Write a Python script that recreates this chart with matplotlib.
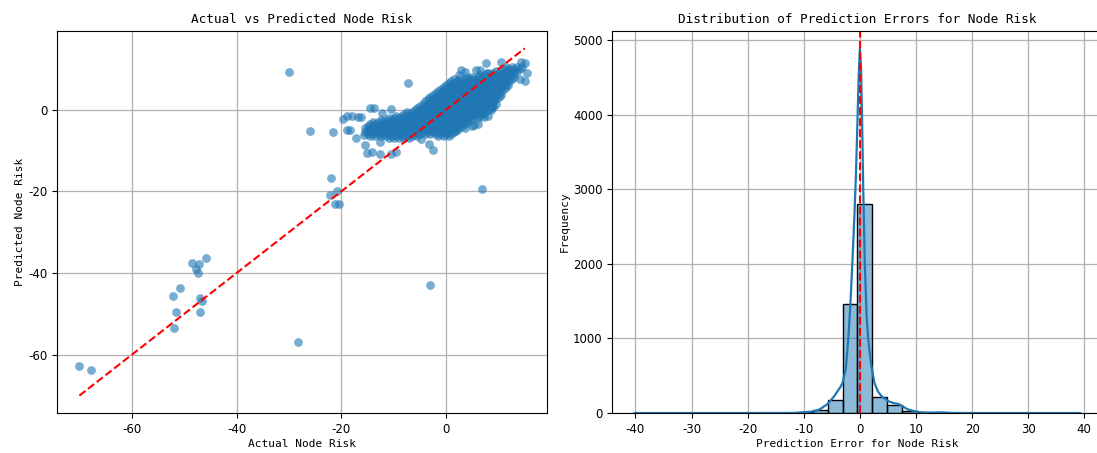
"""Actual vs predicted node risk (scatter) and error distribution (histogram + KDE)."""

import matplotlib
matplotlib.use("Agg")
import matplotlib.pyplot as plt
import numpy as np

plt.rcParams["axes.unicode_minus"] = False

# ---- left panel: dense core of the cloud, one list of actual values per predicted level
core_levels = [-7.0, -6.5, -6.0, -5.5, -5.0, -4.5, -4.0, -3.5, -3.0, -2.5, -2.0, -1.5,
               -1.0, -0.5, 0.0, 0.5, 1.0, 1.5, 2.0, 2.5, 3.0, 3.5, 4.0, 4.5, 5.0, 5.5,
               6.0, 6.5, 7.0, 7.5, 8.0, 8.5, 9.0, 9.5, 10.0, 10.5]
core_actual = [
    [-11, -10, -9, -8, -7],
    [-14.5, -13.5, -12.5, -11.5, -10.5, -9.5, -8.5, -7.5, -6.5, -5.5, -1.5, -0.5, 0.5],
    [-15, -14, -13, -12, -11, -10, -9, -8, -7, -6, -5, -4, -3, -2, -1, 0, 1],
    [-15.5, -14.5, -13.5, -12.5, -11.5, -10.5, -9.5, -8.5, -7.5, -6.5, -5.5, -4.5, -3.5,
     -2.5, -1.5, -0.5, 0.5, 1.5],
    [-15, -14, -13, -12, -11, -10, -9, -8, -7, -6, -5, -4, -3, -2, -1, 0, 1, 2],
    [-15.5, -14.5, -13.5, -12.5, -11.5, -10.5, -9.5, -8.5, -7.5, -6.5, -5.5, -4.5, -3.5,
     -2.5, -1.5, -0.5, 0.5, 1.5, 2.5],
    [-15, -14, -13, -12, -11, -10, -9, -8, -7, -6, -5, -4, -3, -2, -1, 0, 1, 2, 3],
    [-14.5, -13.5, -12.5, -11.5, -10.5, -9.5, -8.5, -7.5, -6.5, -5.5, -4.5, -3.5, -2.5,
     -1.5, -0.5, 0.5, 1.5, 2.5, 3.5],
    [-14, -13, -12, -11, -10, -9, -8, -7, -6, -5, -4, -3, -2, -1, 0, 1, 2, 3, 4],
    [-12.5, -11.5, -10.5, -9.5, -8.5, -7.5, -6.5, -5.5, -4.5, -3.5, -2.5, -1.5, -0.5, 0.5,
     1.5, 2.5, 3.5, 4.5],
    [-11, -10, -9, -8, -7, -6, -5, -4, -3, -2, -1, 0, 1, 2, 3, 4, 5, 6],
    [-9.5, -8.5, -7.5, -6.5, -5.5, -4.5, -3.5, -2.5, -1.5, -0.5, 0.5, 1.5, 2.5, 3.5, 4.5,
     5.5, 6.5],
    [-8, -7, -6, -5, -4, -3, -2, -1, 0, 1, 2, 3, 4, 5, 6, 7],
    [-7.5, -6.5, -5.5, -4.5, -3.5, -2.5, -1.5, -0.5, 0.5, 1.5, 2.5, 3.5, 4.5, 5.5, 6.5, 7.5],
    [-6, -5, -4, -3, -2, -1, 0, 1, 2, 3, 4, 5, 6, 7, 8],
    [-5.5, -4.5, -3.5, -2.5, -1.5, -0.5, 0.5, 1.5, 2.5, 3.5, 4.5, 5.5, 6.5, 7.5, 8.5],
    [-5, -4, -3, -2, -1, 0, 1, 2, 3, 4, 5, 6, 7, 8, 9],
    [-4.5, -3.5, -2.5, -1.5, -0.5, 0.5, 1.5, 2.5, 3.5, 4.5, 5.5, 6.5, 7.5, 8.5, 9.5],
    [-4, -3, -2, -1, 0, 1, 2, 3, 4, 5, 6, 7, 8, 9],
    [-3.5, -2.5, -1.5, -0.5, 0.5, 1.5, 2.5, 3.5, 4.5, 5.5, 6.5, 7.5, 8.5, 9.5],
    [-3, -2, -1, 0, 1, 2, 3, 4, 5, 6, 7, 8, 9, 10],
    [-2.5, -1.5, -0.5, 0.5, 1.5, 2.5, 3.5, 4.5, 5.5, 6.5, 7.5, 8.5, 9.5, 10.5],
    [-2, -1, 0, 1, 2, 3, 4, 5, 6, 7, 8, 9, 10],
    [-1.5, -0.5, 0.5, 1.5, 2.5, 3.5, 4.5, 5.5, 6.5, 7.5, 8.5, 9.5, 10.5],
    [-1, 0, 1, 2, 3, 4, 5, 6, 7, 8, 9, 10, 11],
    [-0.5, 0.5, 1.5, 2.5, 3.5, 4.5, 5.5, 6.5, 7.5, 8.5, 9.5, 10.5, 11.5],
    [0, 1, 2, 3, 4, 5, 6, 7, 8, 9, 10, 11],
    [0.5, 1.5, 2.5, 3.5, 4.5, 5.5, 6.5, 7.5, 8.5, 9.5, 10.5, 11.5],
    [1, 2, 3, 4, 5, 6, 7, 8, 9, 10, 11, 12],
    [1.5, 2.5, 3.5, 4.5, 5.5, 6.5, 7.5, 8.5, 9.5, 10.5, 11.5, 12.5],
    [4, 5, 6, 7, 8, 9, 10, 11, 12, 13],
    [6.5, 7.5, 8.5, 9.5, 10.5, 11.5, 12.5],
    [8, 9, 10, 11, 12, 13],
    [9.5, 10.5, 11.5, 12.5, 13.5],
    [11, 12, 13, 14],
    [11.5, 12.5, 13.5, 14.4],
]

# scattered points around the core and the far outliers
sparse_actual = [
    -70.0, -67.7, -30.0, -28.2, -25.9, -21.6, -22.0, -22.1, -20.8, -21.2, -20.4, -3.0, 6.8, -7.2,
    -48.5, -47.1, -45.8, -47.8, -47.3, -52.2, -50.8, -51.5, -46.9, -46.6, -46.9, -51.9,
    -19.6, -19.0, -18.0, -16.9, -16.2, -19.0, -18.4, -17.2, -15.6, -15.5, -15.1, -14.1,
    -12.6, -10.5, -9.6, -12.6, -14.6, -13.7, -10.5, -12.3, -3.3, -2.6, -4.8,
    7.6, 10.4, 14.3, 15.1, 15.4, 14.0, 15.0, 11.8, 2.9, 3.6, 5.7, 6.5, 7.7, 2.5,
    9.4, 9.2, 8.9, 8.6, 7.9, 7.3, 6.0, 5.4, 4.9, 3.6, 1.6,
]
sparse_pred = [
    -62.7, -63.8, 9.2, -56.9, -5.2, -5.5, -16.7, -20.8, -20.0, -23.2, -23.1, -43.0, -19.4, 6.5,
    -37.6, -37.8, -36.4, -38.9, -40.1, -45.7, -43.6, -49.5, -46.1, -46.9, -49.5, -53.4,
    -2.3, -1.6, -1.6, -1.8, -1.9, -4.9, -5.0, -7.0, -6.3, -8.6, -10.5, -10.3,
    -10.8, -10.8, -10.4, -8.0, 0.3, 0.5, 0.2, -0.8, -8.5, -10.0, -7.1,
    11.4, 11.7, 11.7, 11.4, 9.0, 7.5, 6.9, 6.1, 9.7, 9.3, 9.6, 9.7, 9.0, 8.4,
    4.0, 2.3, 0.7, -0.1, -1.5, -1.8, -3.5, -3.7, -4.1, -4.5, -5.3,
]
ideal_range = [-70.0, 15.0]

# ---- right panel: error histogram (30 bins) and its KDE
err_min, err_max, n_bins = -40.15, 39.25, 30
bin_counts = [1, 0, 0, 0, 1, 1, 0, 0, 0, 0, 0, 8, 40, 180, 1462,
              2805, 210, 110, 33, 10, 4, 2, 0, 0, 0, 0, 0, 0, 0, 1]
kde_x = [-40.15, -20, -12, -11, -10, -9, -8, -7, -6.4, -6, -5.3, -4.6, -4, -3.5, -3.1,
         -2.5, -2.06, -1.7, -1.35, -1.0, -0.7, -0.4, -0.2, 0, 0.2, 0.4, 0.6, 0.88, 1.2,
         1.47, 2, 2.6, 3.2, 3.9, 5, 6, 6.9, 7.5, 8.4, 9, 10.1, 11, 12, 13, 14, 15, 16, 17,
         20, 30, 39.25]
kde_y = [0, 0, 1, 4, 10, 16, 25, 55, 89, 105, 160, 223, 290, 345, 402,
         600, 1000, 1450, 2000, 2600, 3200, 4000, 4550, 4880, 4650, 3900, 3000, 2000, 1300,
         1000, 650, 402, 290, 223, 160, 134, 120, 95, 54, 38, 18, 8, 4, 5, 9, 7, 3, 1,
         0, 0, 0]

BLUE = "#1f77b4"
TITLE_FONT = dict(family="DejaVu Sans Mono", fontsize=9.2)
LABEL_FONT = dict(family="DejaVu Sans Mono", fontsize=8)

fig = plt.figure(figsize=(10.97, 4.53), dpi=100)
ax1 = fig.add_axes([0.052, 0.0883, 0.4467, 0.8433])
ax2 = fig.add_axes([0.5582, 0.0883, 0.4467, 0.8433])

# left: scatter
actual = [x for xs in core_actual for x in xs] + sparse_actual
pred = [lvl for lvl, xs in zip(core_levels, core_actual) for _ in xs] + sparse_pred
ax1.scatter(actual, pred, s=40, color=BLUE, alpha=0.6, linewidths=0)
ax1.plot(ideal_range, ideal_range, "r--", linewidth=1.5)
ax1.set_xlim(-74.25, 19.25)
ax1.set_ylim(-74.25, 19.25)
ax1.set_xticks([-60, -40, -20, 0])
ax1.set_yticks([-60, -40, -20, 0])
ax1.set_title("Actual vs Predicted Node Risk", **TITLE_FONT)
ax1.set_xlabel("Actual Node Risk", labelpad=2, **LABEL_FONT)
ax1.set_ylabel("Predicted Node Risk", labelpad=2, **LABEL_FONT)

# right: histogram + kde
edges = np.linspace(err_min, err_max, n_bins + 1)
ax2.bar(edges[:-1], bin_counts, width=np.diff(edges), align="edge",
        facecolor=(0.122, 0.467, 0.706, 0.5), edgecolor="black", linewidth=1)
ax2.plot(kde_x, kde_y, color=BLUE, linewidth=1.6)
ax2.axvline(0, color="red", linestyle="--", linewidth=1.5)
ax2.set_xlim(err_min - 3.97, err_max + 3.97)
ax2.set_ylim(0, 5124)
ax2.set_xticks(range(-40, 41, 10))
ax2.set_title("Distribution of Prediction Errors for Node Risk", **TITLE_FONT)
ax2.set_xlabel("Prediction Error for Node Risk", labelpad=2, **LABEL_FONT)
ax2.set_ylabel("Frequency", labelpad=2, **LABEL_FONT)

for ax in (ax1, ax2):
    ax.set_axisbelow(True)
    ax.grid(True, color="#b0b0b0", linewidth=0.9)
    ax.tick_params(labelsize=8.5)

fig.savefig("out.png", dpi=100)
